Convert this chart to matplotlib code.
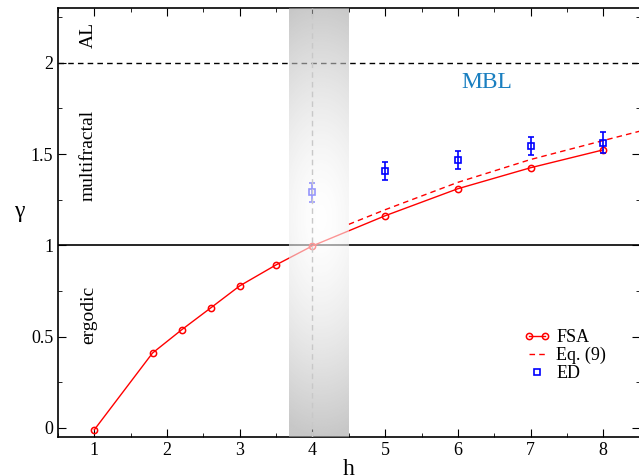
import numpy as np
import matplotlib
matplotlib.use("Agg")
import matplotlib.pyplot as plt
from matplotlib.lines import Line2D
from matplotlib.legend_handler import HandlerLine2D

plt.rcParams['font.family'] = ['Liberation Serif', 'DejaVu Serif']
plt.rcParams['mathtext.fontset'] = 'stix'

fsa_h = [1, 1.8, 2.2, 2.6, 3, 3.5, 4, 5, 6, 7, 8]
fsa_g = [-0.01, 0.41, 0.537, 0.657, 0.778, 0.893, 0.997, 1.162, 1.31, 1.425, 1.523]

eq_h = [4.5, 5, 6, 7, 8, 8.5]
eq_g = [1.115, 1.195, 1.345, 1.470, 1.574, 1.625]

ed_h = [4, 5, 6, 7, 8]
ed_g = [1.29, 1.408, 1.468, 1.543, 1.563]
ed_err = [0.051, 0.051, 0.051, 0.05, 0.06]

fig = plt.figure(figsize=(6.39, 4.76), dpi=100)
ax = fig.add_axes([58/639, 1-437/476, 1.001 - 58/639, (437-8)/476])
ax.set_xlim(0.5, 8.5)
ax.set_ylim(-0.05, 2.3)

ax.axhline(2, color='black', ls=(0, (4, 3)), lw=1.0, zorder=1)
ax.axhline(1, color='black', lw=1.2, zorder=1)

l1, = ax.plot(fsa_h, fsa_g, '-o', color='red', lw=1.0, ms=4.5, mfc='none', mew=1.1, zorder=3)
l2, = ax.plot(eq_h, eq_g, '--', color='red', lw=1.0, dashes=(4, 3), zorder=3)
ax.errorbar(ed_h, ed_g, yerr=ed_err, fmt='s', color='blue', ms=4.2, mfc='none', mew=1.2,
            elinewidth=1.2, capsize=2.5, capthick=1.2, zorder=3)

# shaded band with radial gradient (overlay)
x0, x1 = 3.68, 4.5
y0, y1 = -0.05, 2.3
nx, ny = 100, 300
xs = np.linspace(x0, x1, nx)
ys = np.linspace(y0, y1, ny)
X, Y = np.meshgrid(xs, ys)
cx, cy = 4.12, 1.15
d = np.sqrt(((X - cx) / 1.3) ** 2 + ((Y - cy) / 1.2) ** 2)
d = np.clip(d, 0, 1)
g = 1.0 - 0.36 * d ** 1.6
img = np.zeros((ny, nx, 4))
img[..., 0] = g
img[..., 1] = g
img[..., 2] = g
img[..., 3] = 0.6
ax.imshow(img, extent=[x0, x1, y0, y1], origin='lower', aspect='auto', zorder=4,
          interpolation='bilinear')
ax.axvline(4, color='#c8c8c8', ls=(0, (4, 3)), lw=1.0, zorder=5)

ax.set_xticks([1, 2, 3, 4, 5, 6, 7, 8])
ax.set_xticks(np.arange(0.5, 8.6, 0.5), minor=True)
ax.set_yticks([0, 0.5, 1, 1.5, 2])
ax.set_yticklabels(['0', '0.5', '1', '1.5', '2'])
ax.set_yticks(np.arange(0, 2.3, 0.25), minor=True)
ax.tick_params(which='both', direction='in', top=True, right=True, labelsize=13)
ax.tick_params(which='major', length=6)
ax.tick_params(which='minor', length=3)
for s in ax.spines.values():
    s.set_linewidth(1.2)

ax.set_xlabel('h', fontsize=17, labelpad=0)
ax.set_ylabel('γ', fontsize=17, rotation=0, labelpad=8)

ax.text(0.92, 2.15, 'AL', rotation=90, ha='center', va='center', fontsize=14)
ax.text(0.92, 1.49, 'multifractal', rotation=90, ha='center', va='center', fontsize=14)
ax.text(0.92, 0.62, 'ergodic', rotation=90, ha='center', va='center', fontsize=14)
ax.text(6.4, 1.89, 'MBL', ha='center', va='center', fontsize=17, color='#1a7fc0')

ed_handle = Line2D([], [], ls='none', marker='s', color='blue', ms=4.2, mfc='none', mew=1.2)
ax.legend([l1, l2, ed_handle], ['FSA', 'Eq. (9)', 'ED'], loc='lower right',
          bbox_to_anchor=(0.97, 0.09), frameon=False, fontsize=13, numpoints=2,
          handlelength=1.5, handletextpad=0.3, labelspacing=0.05,
          handler_map={ed_handle: HandlerLine2D(numpoints=1)})

fig.savefig('out.png', dpi=100)
